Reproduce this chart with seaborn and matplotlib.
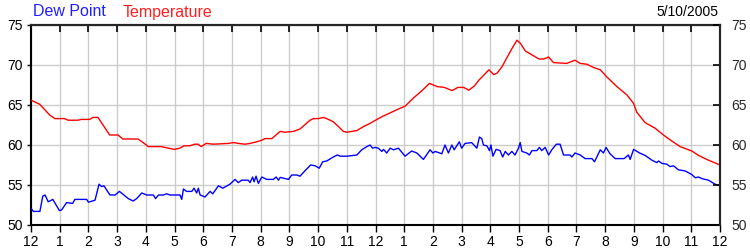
import matplotlib
matplotlib.use("Agg")
import matplotlib.pyplot as plt
import seaborn as sns
import pandas as pd

# ---------------- data ----------------
temp_hours = [0.0, 0.3, 0.65, 0.83, 1.17, 1.29, 1.64, 1.75, 2.04, 2.16, 2.33, 2.51, 2.74, 3.03, 3.2, 3.73,
              4.02, 4.08, 4.54, 4.66, 5.0, 5.18, 5.33, 5.53, 5.7, 5.82, 5.93, 6.1, 6.35, 6.88, 7.05, 7.22,
              7.46, 7.63, 7.86, 8.04, 8.15, 8.39, 8.68, 8.85, 9.14, 9.37, 9.72, 9.84, 10.01, 10.19, 10.36,
              10.53, 10.71, 10.88, 11.0, 11.35, 11.58, 11.81, 12.0, 12.23, 12.5, 12.8, 13.03, 13.33, 13.62,
              13.88, 14.15, 14.4, 14.67, 14.87, 15.07, 15.25, 15.45, 15.6, 15.71, 15.95, 16.12, 16.24, 16.41,
              16.59, 16.76, 16.93, 17.05, 17.22, 17.46, 17.69, 17.86, 18.03, 18.2, 18.66, 18.95, 19.13, 19.36,
              19.59, 19.83, 20.06, 20.41, 20.76, 20.99, 21.1, 21.39, 21.74, 22.03, 22.32, 22.61, 23.02, 23.25,
              23.6, 24.0]
temp_values = [65.6, 65.1, 63.75, 63.3, 63.3, 63.1, 63.1, 63.2, 63.2, 63.45, 63.45, 62.5, 61.25, 61.25, 60.75, 60.75,
               60.0, 59.8, 59.8, 59.7, 59.45, 59.6, 59.9, 59.9, 60.1, 60.1, 59.8, 60.2, 60.1, 60.2, 60.3, 60.2,
               60.1, 60.2, 60.4, 60.6, 60.8, 60.8, 61.7, 61.6, 61.7, 62.0, 63.1, 63.3, 63.3, 63.45, 63.2,
               62.9, 62.3, 61.7, 61.6, 61.8, 62.3, 62.7, 63.1, 63.55, 64.0, 64.5, 64.85, 65.9, 66.8,
               67.7, 67.3, 67.2, 66.8, 67.2, 67.2, 66.85, 67.4, 68.1, 68.5, 69.4, 68.8, 69.0, 69.8,
               71.0, 72.1, 73.1, 72.7, 71.75, 71.25, 70.75, 70.75, 71.0, 70.3, 70.2, 70.6, 70.2, 70.1,
               69.7, 69.4, 68.5, 67.3, 66.25, 65.2, 64.1, 62.8, 62.1, 61.25, 60.5, 59.8, 59.25, 58.7,
               58.1, 57.5]

dew_hours = [0.0, 0.08, 0.31, 0.41, 0.49, 0.6, 0.76, 0.99, 1.07, 1.24, 1.45, 1.53, 1.94, 2.0, 2.23, 2.37, 2.46,
             2.54, 2.75, 2.93, 3.08, 3.22, 3.39, 3.56, 3.68, 3.86, 4.03, 4.26, 4.34, 4.44, 4.61, 4.73, 4.84,
             5.19, 5.25, 5.31, 5.42, 5.6, 5.68, 5.77, 5.83, 5.89, 6.06, 6.24, 6.33, 6.53, 6.68, 6.93, 7.11,
             7.22, 7.34, 7.57, 7.63, 7.72, 7.77, 7.84, 7.92, 8.04, 8.21, 8.44, 8.54, 8.62, 8.68, 8.97, 9.08,
             9.26, 9.37, 9.55, 9.74, 9.9, 10.04, 10.16, 10.3, 10.53, 10.67, 10.77, 11.0, 11.35, 11.52, 11.7,
             11.81, 11.9, 12.0, 12.1, 12.22, 12.28, 12.39, 12.51, 12.63, 12.8, 13.03, 13.26, 13.44, 13.67,
             13.9, 14.0, 14.08, 14.31, 14.42, 14.54, 14.66, 14.74, 14.92, 15.0, 15.12, 15.35, 15.53, 15.62,
             15.7, 15.76, 15.88, 15.97, 16.02, 16.09, 16.2, 16.34, 16.43, 16.52, 16.63, 16.75, 16.86, 16.98,
             17.04, 17.1, 17.27, 17.36, 17.45, 17.62, 17.71, 17.79, 17.91, 18.03, 18.14, 18.3, 18.43, 18.55,
             18.78, 18.84, 18.95, 19.13, 19.3, 19.54, 19.63, 19.83, 19.94, 20.03, 20.17, 20.35, 20.52, 20.66,
             20.81, 20.87, 20.99, 21.2, 21.39, 21.63, 21.8, 21.86, 21.98, 22.15, 22.26, 22.38, 22.55, 22.79,
             23.02, 23.14, 23.25, 23.37, 23.6, 23.83, 24.0]
dew_values = [52.1, 51.7, 51.7, 53.6, 53.75, 52.9, 53.2, 51.8, 51.9, 52.8, 52.7, 53.2, 53.2, 52.85, 53.1, 55.1, 54.8,
              54.9, 53.75, 53.75, 54.2, 53.8, 53.3, 53.0, 53.3, 54.0, 53.75, 53.75, 53.3, 53.75, 53.75, 53.9, 53.75,
              53.75, 53.2, 54.5, 54.2, 54.2, 54.6, 54.0, 54.6, 53.75, 53.5, 54.2, 53.9, 54.9, 54.6, 55.1, 55.7,
              55.3, 55.6, 55.6, 55.3, 56.0, 55.4, 56.1, 55.2, 56.0, 55.7, 55.7, 56.0, 55.6, 55.95, 55.7, 56.25,
              56.25, 56.1, 56.8, 57.5, 57.4, 57.1, 57.9, 58.0, 58.5, 58.75, 58.6, 58.6, 58.75, 59.4, 59.8,
              60.0, 59.6, 59.7, 59.6, 59.2, 59.45, 59.0, 59.6, 59.4, 59.6, 58.6, 59.25, 59.0, 58.2,
              59.4, 59.0, 59.2, 58.9, 60.0, 59.0, 60.0, 59.4, 60.4, 59.6, 60.2, 60.3, 59.6, 61.0,
              60.8, 60.0, 59.9, 59.3, 60.0, 58.6, 59.45, 59.3, 58.5, 59.2, 58.75, 59.2, 58.75, 59.6,
              60.3, 59.2, 59.0, 58.75, 59.3, 59.3, 59.7, 59.3, 59.7, 58.75, 59.4, 60.1, 60.1, 58.75,
              58.75, 58.5, 59.0, 58.75, 58.3, 58.3, 57.9, 59.4, 59.0, 59.7, 58.9, 58.3, 58.3, 58.3,
              58.75, 58.2, 59.45, 59.0, 58.7, 58.1, 57.8, 58.0, 57.7, 57.6, 57.3, 57.4, 56.9, 56.75,
              56.3, 55.9, 56.0, 55.8, 55.6, 55.1, 54.9]

x_tick_positions = list(range(0, 25))
x_tick_labels = ["12", "1", "2", "3", "4", "5", "6", "7", "8", "9", "10", "11",
                 "12", "1", "2", "3", "4", "5", "6", "7", "8", "9", "10", "11", "12"]
y_ticks = [50, 55, 60, 65, 70, 75]
date_label = "5/10/2005"
series_names = ["Dew Point", "Temperature"]
series_colors = {"Dew Point": "#0000FF", "Temperature": "#FF0000"}

# ---------------- figure ----------------
sns.set_theme(style="white")
plt.rcParams["font.family"] = ["Liberation Sans", "DejaVu Sans"]

df = pd.concat([
    pd.DataFrame({"hour": dew_hours, "value": dew_values, "series": "Dew Point"}),
    pd.DataFrame({"hour": temp_hours, "value": temp_values, "series": "Temperature"}),
], ignore_index=True)

fig = plt.figure(figsize=(7.5, 2.5), dpi=100)
fig.patch.set_facecolor("white")
ax = fig.add_axes([31 / 750, 25 / 250, (720 - 31) / 750, 200 / 250])
ax.set_facecolor("white")

sns.lineplot(data=df, x="hour", y="value", hue="series", palette=series_colors,
             estimator=None, sort=False, linewidth=1.0, legend=False, ax=ax, zorder=3)

ax.set_xlim(0, 24)
ax.set_ylim(50, 75)
ax.set_xticks(x_tick_positions)
ax.set_xticklabels(x_tick_labels)
ax.set_yticks(y_ticks)
ax.set_xlabel("")
ax.set_ylabel("")

ax.grid(True, color="#cccccc", linewidth=1.0, zorder=0)
ax.set_axisbelow(True)
for s in ax.spines.values():
    s.set_color("black")
    s.set_linewidth(1.5)

ax.tick_params(axis="x", direction="out", length=5, width=1, color="black",
               labelsize=10, pad=2, labelcolor="black", bottom=True)
ax.tick_params(axis="y", direction="out", length=3, width=1, color="black",
               labelsize=10, pad=3, labelcolor="black", left=True)

# top ticks (inward, no labels)
top = ax.secondary_xaxis("top")
top.set_zorder(5)
top.set_xticks(x_tick_positions)
top.tick_params(direction="in", length=5, width=1.2, color="black", labeltop=False)
top.spines["top"].set_linewidth(1.5)

# right ticks (inward, labels)
right = ax.secondary_yaxis("right")
right.set_zorder(5)
right.set_yticks(y_ticks)
right.tick_params(direction="in", length=5, width=1.2, color="black", labelsize=10, pad=8)
right.spines["right"].set_linewidth(1.5)

fig.text(33 / 750, 1 - 12 / 250, series_names[0], color="#2020FF", fontsize=11.5, va="center", ha="left")
fig.text(123 / 750, 1 - 12 / 250, series_names[1], color="#FF2020", fontsize=11.5, va="center", ha="left")
fig.text(718 / 750, 1 - 12 / 250, date_label, color="black", fontsize=10, va="center", ha="right")

fig.savefig("out.png", dpi=100, facecolor="white")
